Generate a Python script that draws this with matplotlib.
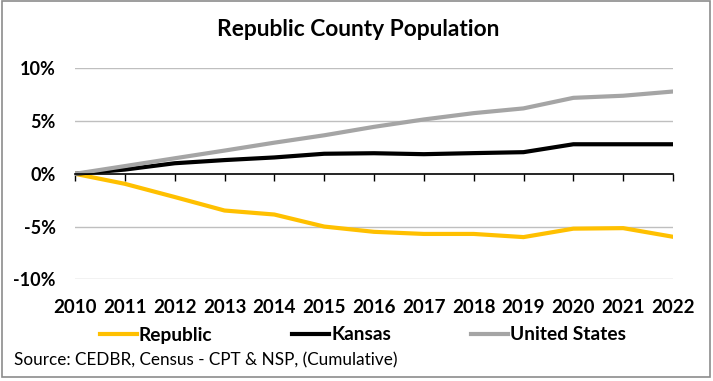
import matplotlib
matplotlib.use("Agg")
import matplotlib.pyplot as plt
from matplotlib.patches import Rectangle
from matplotlib.ticker import FuncFormatter

years = ["2010", "2011", "2012", "2013", "2014", "2015", "2016",
         "2017", "2018", "2019", "2020", "2021", "2022"]
republic = [0.0, -0.95, -2.2, -3.48, -3.86, -5.0, -5.5, -5.7, -5.7, -6.0, -5.2, -5.15, -5.97]
kansas = [0.0, 0.4, 1.0, 1.3, 1.55, 1.9, 1.95, 1.86, 1.96, 2.05, 2.8, 2.8, 2.8]
united_states = [0.0, 0.73, 1.47, 2.2, 2.95, 3.65, 4.45, 5.15, 5.75, 6.2, 7.2, 7.4, 7.8]
yticks = [-10, -5, 0, 5, 10]

plt.rcParams['font.family'] = ['Lato', 'DejaVu Sans']

fig = plt.figure(figsize=(7.13, 3.81), dpi=100)
ax = fig.add_axes([75/713, 1-279.3/381, (673-75)/713, (279.3-68.3)/381])

x = list(range(len(years)))
ax.plot(x, republic, color='#FFC000', lw=3, label='Republic', solid_joinstyle='round')
ax.plot(x, kansas, color='#000000', lw=3, label='Kansas', solid_joinstyle='round')
ax.plot(x, united_states, color='#A5A5A5', lw=3, label='United States', solid_joinstyle='round')

ax.set_xlim(0, len(years)-1)
ax.set_ylim(-10, 10)
ax.set_yticks(yticks)
ax.yaxis.set_major_formatter(FuncFormatter(lambda v, p: f"{int(v)}%"))
for t in yticks:
    if t != 0:
        ax.axhline(t, color='#BFBFBF', lw=1, zorder=0)

for s in ['top', 'right', 'left']:
    ax.spines[s].set_visible(False)
ax.spines['bottom'].set_position(('data', 0))
ax.spines['bottom'].set_color('black')
ax.spines['bottom'].set_linewidth(1.2)
ax.set_xticks(x)
ax.set_xticklabels(years)
ax.tick_params(axis='x', direction='out', length=5, width=1, pad=85,
               labelsize=13.5)
ax.tick_params(axis='y', length=0, pad=14, labelsize=13)
for lab in ax.get_xticklabels() + ax.get_yticklabels():
    lab.set_fontweight('bold')

fig.text(358/713, 1-30/381, "Republic County Population", ha='center', va='center',
         fontsize=16.4, fontweight='bold')

leg = fig.legend(loc='center left', bbox_to_anchor=(100/713, 1-335/381), ncol=3,
                 frameon=False, borderpad=0, borderaxespad=0, handlelength=1.93,
                 handletextpad=0.1, columnspacing=4.17,
                 prop={'weight': 'bold', 'size': 13.8})
for line in leg.get_lines():
    line.set_linewidth(3)

fig.text(14/713, 1-360/381, "Source: CEDBR, Census - CPT & NSP, (Cumulative)",
         ha='left', va='center', fontsize=12.3)

fig.patches.append(Rectangle((2/713, 4/381), 708/713, 376/381, transform=fig.transFigure,
                             fill=False, edgecolor='#8C8C8C', lw=1.2))

fig.savefig("out.png", dpi=100)
